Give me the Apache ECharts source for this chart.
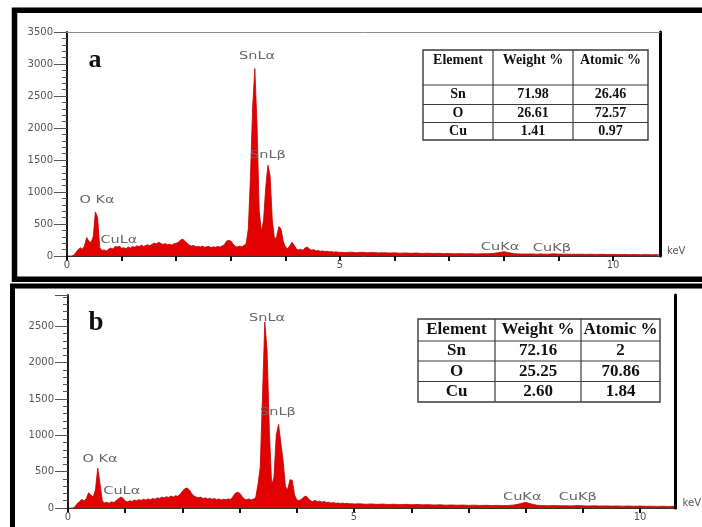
<!DOCTYPE html>
<html>
<head>
<meta charset="utf-8">
<script src="https://cdn.jsdelivr.net/npm/echarts@6/dist/echarts.min.js"></script>
<style>
html, body { margin: 0; padding: 0; background: #fff; }
#chart { width: 702px; height: 527px; }
</style>
</head>
<body>
<div id="chart"></div>
<script>
// energy grid (keV), shared by both spectra
const energies = [
    0, 0.04, 0.08, 0.12, 0.16, 0.2, 0.24, 0.28, 0.32, 0.36,
    0.4, 0.44, 0.48, 0.52, 0.56, 0.6, 0.64, 0.68, 0.72, 0.76,
    0.8, 0.84, 0.88, 0.92, 0.96, 1, 1.04, 1.08, 1.12, 1.16,
    1.2, 1.24, 1.28, 1.32, 1.36, 1.4, 1.44, 1.48, 1.52, 1.56,
    1.6, 1.64, 1.68, 1.72, 1.76, 1.8, 1.84, 1.88, 1.92, 1.96,
    2, 2.04, 2.08, 2.12, 2.16, 2.2, 2.24, 2.28, 2.32, 2.36,
    2.4, 2.44, 2.48, 2.52, 2.56, 2.6, 2.64, 2.68, 2.72, 2.76,
    2.8, 2.84, 2.88, 2.92, 2.96, 3, 3.04, 3.08, 3.12, 3.16,
    3.2, 3.24, 3.28, 3.32, 3.36, 3.4, 3.44, 3.48, 3.52, 3.56,
    3.6, 3.64, 3.68, 3.72, 3.76, 3.8, 3.84, 3.88, 3.92, 3.96,
    4, 4.04, 4.08, 4.12, 4.16, 4.2, 4.24, 4.28, 4.32, 4.36,
    4.4, 4.44, 4.48, 4.52, 4.56, 4.6, 4.64, 4.68, 4.72, 4.76,
    4.8, 4.84, 4.88, 4.92, 4.96, 5,
    5.1, 5.2, 5.3, 5.4, 5.5, 5.6, 5.7, 5.8, 5.9, 6,
    6.1, 6.2, 6.3, 6.4, 6.5, 6.6, 6.7, 6.8, 6.9, 7,
    7.1, 7.2, 7.3, 7.4, 7.5, 7.6, 7.7, 7.8, 7.9, 8,
    8.1, 8.2, 8.3, 8.4, 8.5, 8.6, 8.7, 8.8, 8.9, 9,
    9.1, 9.2, 9.3, 9.4, 9.5, 9.6, 9.7, 9.8, 9.9, 10,
    10.1, 10.2, 10.3, 10.4, 10.5, 10.6, 10.7, 10.8, 10.9,
]

// counts, sample a
const countsA = [
    0, 0, 0, 10, 50, 95, 130, 105, 160, 290,
    230, 210, 300, 690, 600, 130, 85, 95, 80, 105,
    125, 110, 150, 140, 155, 120, 130, 115, 140, 125,
    150, 135, 160, 145, 170, 150, 165, 175, 160, 185,
    200, 190, 215, 195, 180, 195, 175, 185, 170, 190,
    200, 215, 250, 265, 230, 200, 170, 155, 165, 145,
    150, 140, 155, 135, 145, 150, 130, 145, 135, 150,
    140, 155, 175, 230, 245, 235, 190, 150, 140, 155,
    145, 165, 190, 420, 1250, 2330, 2930, 2050, 700, 380,
    560, 1080, 1420, 1250, 560, 260, 300, 460, 420, 230,
    140, 115, 160, 215, 170, 110, 95, 105, 90, 125,
    140, 110, 90, 100, 80, 85, 75, 80, 70, 75,
    65, 70, 60, 65, 60, 58,
    55, 60, 52, 58, 50, 55, 48, 52, 46, 50,
    44, 48, 42, 46, 40, 44, 38, 42, 36, 40,
    35, 38, 34, 37, 33, 36, 34, 40, 52, 68,
    50, 36, 32, 30, 33, 29, 31, 28, 34, 30,
    27, 29, 26, 28, 25, 27, 24, 26, 23, 25,
    22, 24, 21, 23, 20, 22, 20, 21, 19,
]

// counts, sample b
const countsB = [
    0, 0, 0, 15, 60, 85, 120, 95, 130, 210,
    180, 150, 250, 550, 330, 95, 70, 80, 65, 85,
    75, 100, 125, 150, 135, 95, 85, 100, 90, 110,
    100, 115, 105, 120, 110, 125, 115, 130, 120, 140,
    130, 150, 140, 155, 145, 165, 150, 170, 160, 190,
    230, 265, 275, 250, 200, 165, 150, 140, 150, 130,
    140, 125, 135, 120, 130, 115, 125, 110, 120, 115,
    125, 120, 150, 200, 215, 205, 160, 125, 115, 125,
    110, 120, 140, 320, 560, 1550, 2560, 2170, 1050, 320,
    420, 1000, 1150, 900, 650, 300, 250, 390, 380, 180,
    110, 100, 120, 150, 165, 130, 100, 90, 105, 85,
    95, 80, 90, 75, 80, 70, 75, 65, 70, 62,
    68, 60, 64, 58, 60, 55,
    58, 52, 56, 50, 54, 48, 52, 46, 50, 45,
    48, 43, 46, 41, 44, 39, 42, 38, 40, 36,
    39, 35, 37, 34, 36, 33, 35, 42, 58, 78,
    55, 38, 33, 31, 34, 30, 32, 29, 33, 30,
    28, 30, 27, 29, 26, 28, 25, 27, 24, 26,
    23, 25, 22, 24, 21, 23, 21, 22, 20,
]

const xTickValues = [0, 1, 2, 3, 4, 5, 6, 7, 8, 9, 10]
const xLabelValues = [0, 5, 10]
const yStep = 500

// peak labels: [keV, counts] anchors
const peakNames = ['O Kα', 'CuLα', 'SnLα', 'SnLβ', 'CuKα', 'CuKβ']
const peakPosA = [[0.55, 875], [0.95, 250], [3.48, 3125], [3.68, 1578], [7.93, 140], [8.88, 125]]
const peakPosB = [[0.56, 674], [0.94, 234], [3.48, 2613], [3.67, 1320], [7.94, 151], [8.91, 151]]

// composition tables
const tableHeader = ['Element', 'Weight %', 'Atomic %']
const elements = ['Sn', 'O', 'Cu']
const weightA = ['71.98', '26.61', '1.41']
const atomicA = ['26.46', '72.57', '0.97']
const weightB = ['72.16', '25.25', '2.60']
const atomicB = ['2', '70.86', '1.84']

const RED = '#e30000'
const LABEL_GRAY = '#555'

const chart = echarts.init(document.getElementById('chart'))

const spectrum = counts => energies.map((e, i) => [e, counts[i]])

const energyAxis = (gridIndex, max) => ({
    type: 'value',
    gridIndex,
    min: 0,
    max,
    axisLine: { show: true, onZero: false, lineStyle: { color: '#333', width: 1 } },
    axisTick: { show: true, customValues: xTickValues, length: 5, lineStyle: { color: '#111', width: 2 } },
    axisLabel: { customValues: xLabelValues, margin: 4, fontSize: 10, fontFamily: 'DejaVu Sans', color: LABEL_GRAY },
    splitLine: { show: false },
    name: 'keV',
    nameLocation: 'end',
    nameGap: 7,
    nameTextStyle: { fontSize: 10, fontFamily: 'DejaVu Sans', color: LABEL_GRAY, verticalAlign: 'bottom' },
    z: 3,
})

const countAxis = (gridIndex, max) => ({
    type: 'value',
    gridIndex,
    min: 0,
    max,
    interval: yStep,
    axisLine: { show: true, onZero: false, lineStyle: { color: '#1a1a1a', width: 2 } },
    axisTick: { show: true, length: 13, lineStyle: { color: '#555' } },
    minorTick: { show: true, splitNumber: 5, length: 5, lineStyle: { color: '#555' } },
    axisLabel: {
        margin: 14,
        fontSize: 10,
        fontFamily: 'DejaVu Sans',
        color: LABEL_GRAY,
        showMaxLabel: max % yStep === 0,
        formatter: value => String(value),
    },
    splitLine: { show: false },
    minorSplitLine: { show: false },
    z: 3,
})

const frameAxis = (gridIndex, position, color, width) => ({
    type: 'value',
    gridIndex,
    position,
    min: 0,
    max: 1,
    axisLine: { show: true, onZero: false, lineStyle: { color, width } },
    axisTick: { show: false },
    axisLabel: { show: false },
    splitLine: { show: false },
    z: 4,
})

const spectrumSeries = (xIndex, yIndex, counts) => ({
    type: 'line',
    xAxisIndex: xIndex,
    yAxisIndex: yIndex,
    data: spectrum(counts),
    showSymbol: false,
    symbol: 'none',
    lineStyle: { color: '#c00000', width: 0.8 },
    areaStyle: { color: RED, opacity: 1 },
    z: 2,
})

chart.setOption({
    animation: false,
    grid: [
        { left: 67, top: 32, width: 593, height: 224 },
        { left: 68, top: 295, width: 610, height: 213 },
    ],
    xAxis: [
        energyAxis(0, 10.86),
        frameAxis(0, 'top', '#8a8a8a', 1),
        energyAxis(1, 10.62),
    ],
    yAxis: [
        countAxis(0, 3500),
        frameAxis(0, 'right', '#000', 3),
        countAxis(1, 2930),
        frameAxis(1, 'right', '#000', 3),
    ],
    series: [
        spectrumSeries(0, 0, countsA),
        spectrumSeries(2, 2, countsB),
    ],
})

const textEl = (text, x, y, font, fill, extra) => ({
    type: 'text',
    x,
    y,
    z: 60,
    ...extra,
    style: {
        text,
        font,
        fill,
        align: 'center',
        verticalAlign: 'middle',
        textAlign: 'center',
        textVerticalAlign: 'middle',
    },
})

const lineEl = (x1, y1, x2, y2, color, width) => ({
    type: 'line',
    z: 55,
    shape: { x1, y1, x2, y2 },
    style: { stroke: color, lineWidth: width },
})

const tableElements = (cols, rows, fontSize, headerY, weights, atomics) => {
    const els = []
    const left = cols[0]
    const right = cols[cols.length - 1]
    const top = rows[0]
    const bottom = rows[rows.length - 1]
    const font = `bold ${fontSize}px "Liberation Serif"`
    els.push({
        type: 'rect',
        z: 50,
        shape: { x: left, y: top, width: right - left, height: bottom - top },
        style: { fill: '#fff', stroke: '#3a3a3a', lineWidth: 1.4 },
    })
    cols.slice(1, -1).forEach(x => els.push(lineEl(x, top, x, bottom, '#3a3a3a', 1.2)))
    rows.slice(1, -1).forEach(y => els.push(lineEl(left, y, right, y, '#3a3a3a', 1.2)))
    const colMid = i => (cols[i] + cols[i + 1]) / 2
    const rowMid = i => (rows[i] + rows[i + 1]) / 2
    tableHeader.forEach((h, i) => els.push(textEl(h, colMid(i), headerY ?? rowMid(0), font, '#111')))
    elements.forEach((el, r) => {
        const y = rowMid(r + 1)
        els.push(textEl(el, colMid(0), y, font, '#111'))
        els.push(textEl(weights[r], colMid(1), y, font, '#111'))
        els.push(textEl(atomics[r], colMid(2), y, font, '#111'))
    })
    return els
}

const peakLabels = (axisIndex, positions) =>
    peakNames.map((name, i) => {
        const [px, py] = chart.convertToPixel({ xAxisIndex: axisIndex, yAxisIndex: axisIndex }, positions[i])
        return textEl(name, px, py, '10px "DejaVu Sans"', '#666', { scaleX: 1.45 })
    })

const graphics = [
    // panel frames
    {
        type: 'rect',
        z: 100,
        shape: { x: 14.5, y: 10.3, width: 720, height: 269 },
        style: { fill: 'none', stroke: '#000', lineWidth: 5.5 },
    },
    {
        type: 'rect',
        z: 100,
        shape: { x: 12.5, y: 286, width: 720, height: 300 },
        style: { fill: 'none', stroke: '#000', lineWidth: 5 },
    },
    textEl('a', 95, 60, 'bold 26px "Liberation Serif"', '#111'),
    textEl('b', 96, 323, 'bold 27px "Liberation Serif"', '#111'),
    ...tableElements([423, 493, 573, 648], [50, 85, 104.5, 122.5, 140], 14, 60, weightA, atomicA),
    ...tableElements([418, 495, 581, 660], [319, 341, 361, 381.5, 402], 17, null, weightB, atomicB),
    ...peakLabels(0, peakPosA),
    ...peakLabels(2, peakPosB),
]

chart.setOption({ graphic: graphics })
</script>
</body>
</html>
